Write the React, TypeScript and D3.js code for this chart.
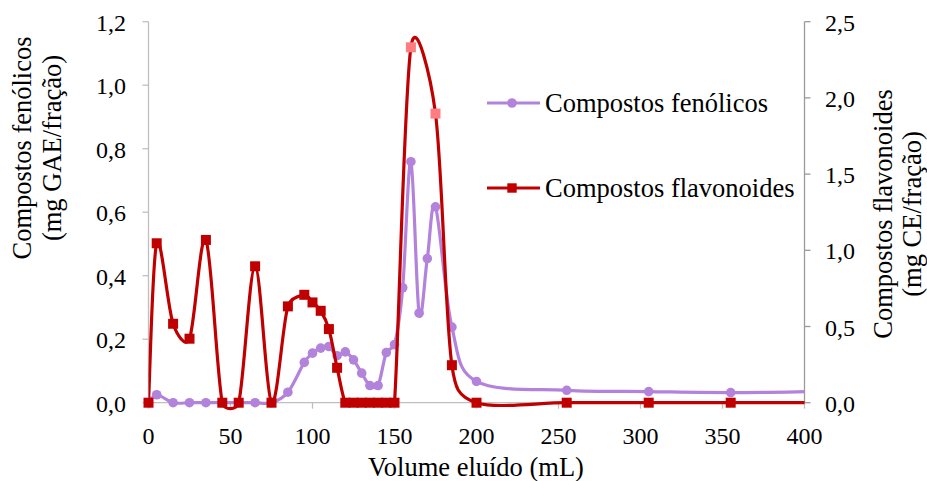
import React, { useRef, useEffect } from "react";
import * as d3 from "d3";

// Compostos fenólicos (eixo esquerdo, mg GAE/fração)
const phenolVolume = [0, 5, 15, 25, 35, 45, 55, 65, 75, 85, 95, 100, 105, 110, 115, 120, 125, 130, 135, 140, 145, 150, 155, 160, 165, 170, 175, 185, 200, 255, 305, 355, 405];
const phenolValue = [0, 0.025, 0, 0, 0, 0, 0, 0, 0, 0.033, 0.127, 0.156, 0.172, 0.177, 0.148, 0.16, 0.135, 0.093, 0.054, 0.054, 0.158, 0.183, 0.362, 0.759, 0.282, 0.454, 0.617, 0.238, 0.067, 0.039, 0.035, 0.032, 0.035];

// Compostos flavonoides (eixo direito, mg CE/fração)
const flavVolume = [0, 5, 15, 25, 35, 45, 55, 65, 75, 85, 95, 100, 105, 110, 115, 120, 125, 130, 135, 140, 145, 150, 160, 175, 185, 200, 255, 305, 355, 405];
const flavValue = [0, 1.046, 0.518, 0.42, 1.068, 0, 0, 0.895, 0, 0.632, 0.708, 0.658, 0.603, 0.483, 0.229, 0, 0, 0, 0, 0, 0, 0, 2.332, 1.897, 0.246, 0, 0, 0, 0, 0];
const flavHighlight = [160, 175];

const xTicks = [0, 50, 100, 150, 200, 250, 300, 350, 400];
const yLeftTicks = [0, 0.2, 0.4, 0.6, 0.8, 1.0, 1.2];
const yRightTicks = [0, 0.5, 1.0, 1.5, 2.0, 2.5];

const PURPLE = "#b383db";
const RED = "#c00000";
const PINK = "#ff7c80";
const FONT = "'Liberation Serif', 'Times New Roman', serif";

// Excel-like smoothed line: cubic bezier, control arm = 1/6 of the neighbour chord,
// never longer than half the segment
const smoothPath = (pts: [number, number][]) => {
    const dist = (a: [number, number], b: [number, number]) => Math.hypot(b[0] - a[0], b[1] - a[1]);
    const p = d3.path();
    p.moveTo(pts[0][0], pts[0][1]);
    for (let i = 0; i < pts.length - 1; i++) {
        const p0 = pts[i - 1] || pts[i];
        const p1 = pts[i];
        const p2 = pts[i + 1];
        const p3 = pts[i + 2] || pts[i + 1];
        const d12 = dist(p1, p2);
        const d02 = dist(p0, p2);
        const d13 = dist(p1, p3);
        const f1 = d02 > 0 ? Math.min(1 / 6, d12 / (2 * d02)) : 0;
        const f2 = d13 > 0 ? Math.min(1 / 6, d12 / (2 * d13)) : 0;
        p.bezierCurveTo(
            p1[0] + (p2[0] - p0[0]) * f1, p1[1] + (p2[1] - p0[1]) * f1,
            p2[0] - (p3[0] - p1[0]) * f2, p2[1] - (p3[1] - p1[1]) * f2,
            p2[0], p2[1]
        );
    }
    return p.toString();
};

const App = () => {
    const svgRef = useRef<SVGSVGElement>(null);

    useEffect(() => {
        document.body.style.margin = "0";
        const width = 927;
        const height = 481;
        const margin = { top: 22, right: 123, bottom: 79, left: 148 };

        const x = d3.scaleLinear().domain([0, 400]).range([margin.left + 0.5, width - margin.right + 0.5]);
        const yL = d3.scaleLinear().domain([0, 1.2]).range([height - margin.bottom + 0.7, margin.top - 0.3]);
        const yR = d3.scaleLinear().domain([0, 2.5]).range([height - margin.bottom + 0.7, margin.top - 0.3]);

        const svg = d3.select(svgRef.current);
        svg.selectAll("*").remove();

        const fmt = (d: number, digits: number) => d.toFixed(digits).replace(".", ",");

        svg.append("defs").append("clipPath").attr("id", "plot-clip")
            .append("rect")
            .attr("x", x(0)).attr("y", 0)
            .attr("width", x(400) - x(0)).attr("height", height);

        // x axis
        const xAxis = svg.append("g").attr("transform", `translate(0,${yL(0)})`);
        xAxis.append("line").attr("x1", x(0)).attr("x2", x(400)).attr("stroke", "#bfbfbf").attr("stroke-width", 1.3);
        xAxis.selectAll("line.tick").data(xTicks).join("line").attr("class", "tick")
            .attr("x1", (d) => x(d)).attr("x2", (d) => x(d)).attr("y1", 0).attr("y2", 6)
            .attr("stroke", "#bfbfbf").attr("stroke-width", 1.3);
        xAxis.selectAll("text").data(xTicks).join("text")
            .attr("x", (d) => x(d)).attr("y", 41)
            .attr("text-anchor", "middle").attr("font-family", FONT).attr("font-size", 24).attr("fill", "#000")
            .text((d) => d);

        // left axis
        const left = svg.append("g");
        left.append("line").attr("x1", x(0)).attr("x2", x(0)).attr("y1", yL(0)).attr("y2", yL(1.2)).attr("stroke", "#bfbfbf").attr("stroke-width", 1.3);
        left.selectAll("line.tick").data(yLeftTicks).join("line").attr("class", "tick")
            .attr("x1", x(0) - 6).attr("x2", x(0)).attr("y1", (d) => yL(d)).attr("y2", (d) => yL(d))
            .attr("stroke", "#bfbfbf").attr("stroke-width", 1.3);
        left.selectAll("text").data(yLeftTicks).join("text")
            .attr("x", 126).attr("y", (d) => yL(d) + 9)
            .attr("text-anchor", "end").attr("font-family", FONT).attr("font-size", 24).attr("fill", "#000")
            .text((d) => fmt(d, 1));

        // right axis
        const right = svg.append("g");
        right.append("line").attr("x1", x(400)).attr("x2", x(400)).attr("y1", yR(0)).attr("y2", yR(2.5)).attr("stroke", "#9a9a9a").attr("stroke-width", 1.3);
        right.selectAll("line.tick").data(yRightTicks).join("line").attr("class", "tick")
            .attr("x1", x(400)).attr("x2", x(400) + 6).attr("y1", (d) => yR(d)).attr("y2", (d) => yR(d))
            .attr("stroke", "#9a9a9a").attr("stroke-width", 1.3);
        right.selectAll("text").data(yRightTicks).join("text")
            .attr("x", 825).attr("y", (d) => yR(d) + 9)
            .attr("text-anchor", "start").attr("font-family", FONT).attr("font-size", 24).attr("fill", "#000")
            .text((d) => fmt(d, 1));

        // axis titles
        const title = (tx: number, ty: number, rot: number, s: string) =>
            svg.append("text")
                .attr("transform", `translate(${tx},${ty}) rotate(${rot})`)
                .attr("text-anchor", "middle").attr("font-family", FONT).attr("font-size", 26.5).attr("fill", "#000")
                .text(s);
        title(476, 476, 0, "Volume eluído (mL)");
        title(31, 148, -90, "Compostos fenólicos");
        title(61, 148, -90, "(mg GAE/fração)");
        title(892, 214, -90, "Compostos flavonoides");
        title(921, 214, -90, "(mg CE/fração)");

        const phenolPts = phenolVolume.map((v, i) => [x(v), yL(phenolValue[i])] as [number, number]);
        const flavPts = flavVolume.map((v, i) => [x(v), yR(flavValue[i])] as [number, number]);

        const plot = svg.append("g").attr("clip-path", "url(#plot-clip)");

        // phenolic series
        plot.append("path")
            .attr("fill", "none").attr("stroke", PURPLE).attr("stroke-width", 3.2).attr("stroke-linejoin", "round")
            .attr("d", smoothPath(phenolPts));
        plot.selectAll("circle.ph").data(phenolVolume.filter((v) => v <= 400)).join("circle").attr("class", "ph")
            .attr("cx", (v, i) => x(v)).attr("cy", (v, i) => yL(phenolValue[i])).attr("r", 4.8).attr("fill", PURPLE);

        // flavonoid series
        plot.append("path")
            .attr("fill", "none").attr("stroke", RED).attr("stroke-width", 3.2).attr("stroke-linejoin", "round")
            .attr("d", smoothPath(flavPts));
        const sq = 10;
        svg.selectAll("rect.fl").data(flavVolume.filter((v) => v <= 400)).join("rect").attr("class", "fl")
            .attr("x", (v) => x(v) - sq / 2).attr("y", (v, i) => yR(flavValue[i]) - sq / 2)
            .attr("width", sq).attr("height", sq)
            .attr("fill", (v) => (flavHighlight.includes(v) ? PINK : RED));

        // legend
        const legendItems = [
            { label: "Compostos fenólicos", color: PURPLE, shape: "circle", y: 103 },
            { label: "Compostos flavonoides", color: RED, shape: "rect", y: 188 },
        ];
        const legend = svg.append("g");
        legendItems.forEach((item) => {
            const g = legend.append("g").attr("transform", `translate(0,${item.y})`);
            g.append("line").attr("x1", 487).attr("x2", 540).attr("stroke", item.color).attr("stroke-width", 3.2);
            if (item.shape === "circle") {
                g.append("circle").attr("cx", 512).attr("r", 4.8).attr("fill", item.color);
            } else {
                g.append("rect").attr("x", 512 - 4.7).attr("y", -4.7).attr("width", 9.4).attr("height", 9.4).attr("fill", item.color);
            }
            g.append("text").attr("x", 545).attr("y", 9)
                .attr("font-family", FONT).attr("font-size", 26.5).attr("fill", "#000")
                .text(item.label);
        });
    }, []);

    return <svg ref={svgRef} width={927} height={481} style={{ display: "block" }}></svg>;
};

export default App;
